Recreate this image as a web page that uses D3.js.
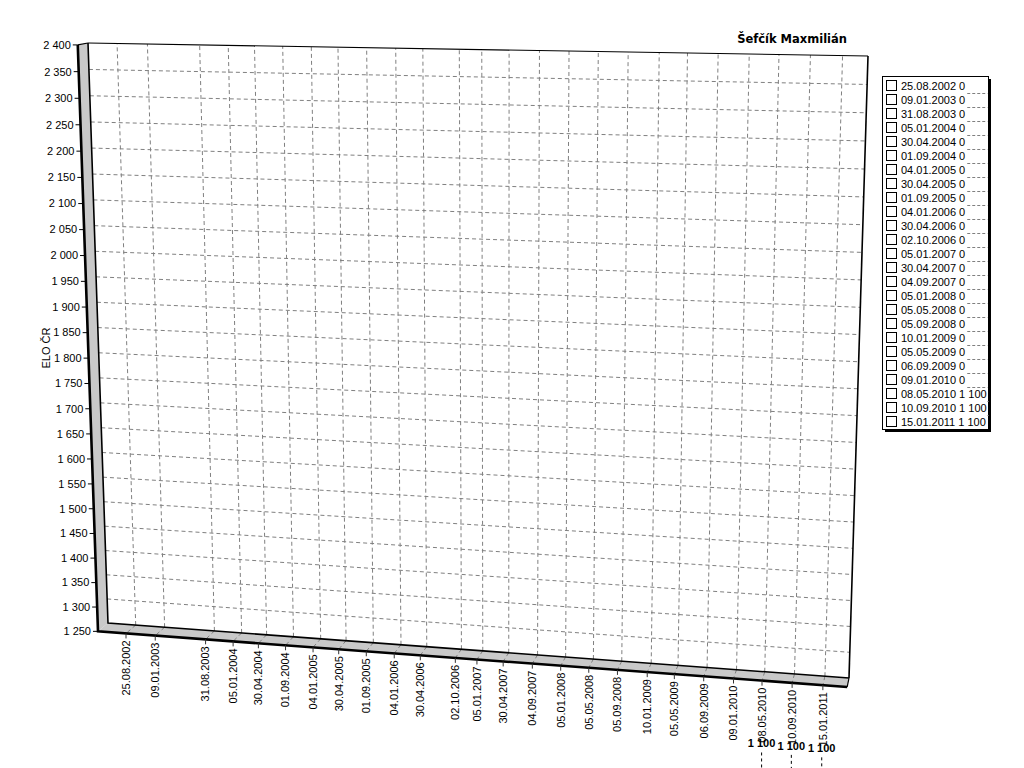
<!DOCTYPE html>
<html><head><meta charset="utf-8">
<script src="https://cdn.jsdelivr.net/npm/d3@7"></script>
<style>html,body{margin:0;padding:0;background:#fff;} svg{display:block;}</style>
</head><body><svg id="c" width="1024" height="768"></svg>
<script>
// ---------- data ----------
const dates = ["25.08.2002","09.01.2003","31.08.2003","05.01.2004","30.04.2004","01.09.2004",
  "04.01.2005","30.04.2005","01.09.2005","04.01.2006","30.04.2006","02.10.2006","05.01.2007",
  "30.04.2007","04.09.2007","05.01.2008","05.05.2008","05.09.2008","10.01.2009","05.05.2009",
  "06.09.2009","09.01.2010","08.05.2010","10.09.2010","15.01.2011"];
const values = [0,0,0,0,0,0,0,0,0,0,0,0,0,0,0,0,0,0,0,0,0,0,1100,1100,1100];
const yTickValues = [1250,1300,1350,1400,1450,1500,1550,1600,1650,1700,1750,1800,1850,1900,
  1950,2000,2050,2100,2150,2200,2250,2300,2350,2400];
const xDomainLabels = ["15.04.2002","25.04.2011"];
const yDomain = [1250, 2400];
const title = "Šefčík Maxmilián";
const yTitle = "ELO ČR";

// ---------- setup ----------
const svg = d3.select("#c");
const parse = d3.timeParse("%d.%m.%Y");
const loc = d3.formatLocale({decimal:",", thousands:"\u00a0", grouping:[3], currency:["",""]});
const fmt = v => loc.format(",d")(v).replace(/\u00a0/g, " ");

const xs = d3.scaleTime().domain(xDomainLabels.map(parse)).range([0,1]);
const ys = d3.scaleLinear().domain(yDomain).range([0,1]);

// perspective: back wall quad (unit square -> screen), plus depth toward viewer
function squareToQuad(p0,p1,p2,p3){
  const sx=p0[0]-p1[0]+p2[0]-p3[0], sy=p0[1]-p1[1]+p2[1]-p3[1];
  const dx1=p1[0]-p2[0], dx2=p3[0]-p2[0], dy1=p1[1]-p2[1], dy2=p3[1]-p2[1];
  const det=dx1*dy2-dx2*dy1;
  const g=(sx*dy2-sy*dx2)/det, h=(dx1*sy-dy1*sx)/det;
  const a=p1[0]-p0[0]+g*p1[0], b=p3[0]-p0[0]+h*p3[0], c=p0[0];
  const d=p1[1]-p0[1]+g*p1[1], e=p3[1]-p0[1]+h*p3[1], f=p0[1];
  return (u,v)=>{const w=g*u+h*v+1; return [(a*u+b*v+c)/w,(d*u+e*v+f)/w];};
}
const H = squareToQuad([108,623],[849,678],[868,56],[88,43]);
const VP = [1010,-130], K = 0.0111;
function project(u,v,w){
  const [x,y] = H(u,v);
  return [x + w*K*(x-VP[0]), y + w*K*(y-VP[1])];
}
const line = d3.line();

const FONT = "'Liberation Sans', Arial, sans-serif";

// ---------- back wall ----------
svg.append("path")
  .attr("d", line([project(0,0,0),project(1,0,0),project(1,1,0),project(0,1,0)]) + "Z")
  .attr("fill","#fff");

const grid = svg.append("g").attr("stroke","#808080").attr("stroke-width",1)
  .attr("stroke-dasharray","4,3").attr("fill","none");
yTickValues.forEach(t => {
  if (t === yDomain[0] || t === yDomain[1]) return;
  const v = ys(t);
  grid.append("path").attr("d", line([project(0,v,0), project(1,v,0)]));
});
dates.forEach(s => {
  const u = xs(parse(s));
  grid.append("path").attr("d", line([project(u,0,0), project(u,1,0)]));
});

// ---------- left wall ----------
svg.append("path")
  .attr("d", line([project(0,1,1),project(0,1,0),project(0,0,0),project(0,0,1)]) + "Z")
  .attr("fill","#c9c9c9").attr("stroke","none");
// ---------- floor ----------
svg.append("path")
  .attr("d", line([project(0,0,0),project(1,0,0),project(1,0,1),project(0,0,1)]) + "Z")
  .attr("fill","#c9c9c9").attr("stroke","none");

const fgrid = svg.append("g").attr("stroke","#808080").attr("stroke-width",1)
  .attr("stroke-dasharray","4,3").attr("fill","none");
dates.forEach(s => {
  const u = xs(parse(s));
  fgrid.append("path").attr("d", line([project(u,0,0), project(u,0,1)]));
});

// ---------- edges ----------
const edge = (pts, w) => svg.append("path").attr("d", line(pts))
  .attr("fill","none").attr("stroke","#000").attr("stroke-width",w).attr("stroke-linejoin","miter");
edge([project(0,1,0), project(1,1,0)], 1.2);              // top back
edge([project(1,1,0), project(1,0,0)], 1.6);              // right back
edge([project(0,1,0), project(0,0,0), project(1,0,0)], 1.6); // inner corner
edge([project(0,1,1), project(0,1,0)], 1.2);              // left wall top
edge([project(1,0,0), project(1,0,1)], 1.2);              // floor right end
edge([project(0,1,1), project(0,0,1), project(1,0,1)], 2.6); // front edges

// ---------- y axis ----------
const yAx = svg.append("g").attr("font-family",FONT).attr("font-size",11).attr("fill","#000");
yTickValues.forEach(t => {
  const [x,y] = project(0, ys(t), 1);
  yAx.append("line").attr("x1",x-5).attr("x2",x).attr("y1",y).attr("y2",y)
    .attr("stroke","#000").attr("stroke-width",1);
  yAx.append("text").attr("x",x-7).attr("y",y).attr("dy","0.35em")
    .attr("text-anchor","end").text(fmt(t));
});
svg.append("text").attr("transform","translate(50,348) rotate(-90)")
  .attr("text-anchor","middle").attr("font-family",FONT).attr("font-size",11)
  .attr("fill","#000").text(yTitle);

// ---------- x axis ----------
const xAx = svg.append("g").attr("font-family",FONT).attr("font-size",11).attr("fill","#000");
dates.forEach(s => {
  const [x,y] = project(xs(parse(s)), 0, 1);
  xAx.append("line").attr("x1",x).attr("x2",x).attr("y1",y).attr("y2",y+5)
    .attr("stroke","#333").attr("stroke-width",1);
  xAx.append("text").attr("transform",`translate(${x},${y+7}) rotate(-90)`)
    .attr("dy","0.35em").attr("text-anchor","end").text(s);
});

// ---------- series (marks) ----------
const ser = svg.append("g");
dates.forEach((s,i) => {
  const u = xs(parse(s));
  const P = project(u, ys(values[i]), 0.5);
  const P0 = project(u, ys(0), 0.5);
  if (P[1] > 768) return;
  ser.append("path").attr("d", line([P, [P[0], Math.min(P0[1], 800)]]))
    .attr("stroke","#000").attr("stroke-width",1).attr("stroke-dasharray","3,3").attr("fill","none");
  ser.append("text").attr("x",P[0]).attr("y",P[1]-5).attr("text-anchor","middle")
    .attr("font-family",FONT).attr("font-size",11).attr("font-weight","bold")
    .attr("fill","#000").text(fmt(values[i]));
});

// ---------- title ----------
svg.append("text").attr("x",847).attr("y",43).attr("text-anchor","end")
  .attr("font-family","'DejaVu Sans', Verdana, sans-serif").attr("font-size",11.5)
  .attr("font-weight","bold").attr("fill","#000").text(title);

// ---------- legend ----------
const lg = svg.append("g").attr("font-family",FONT).attr("font-size",11);
const LX = 882, LY = 76, LW = 106, rowH = 14, LH = dates.length*rowH + 3;
lg.append("rect").attr("x",LX+3).attr("y",LY+3).attr("width",LW).attr("height",LH).attr("fill","#000");
lg.append("rect").attr("x",LX+0.5).attr("y",LY+0.5).attr("width",LW).attr("height",LH)
  .attr("fill","#fff").attr("stroke","#000").attr("stroke-width",1);
dates.forEach((s,i) => {
  const yc = LY + 10 + i*rowH;
  lg.append("rect").attr("x",886.5).attr("y",yc-5.5).attr("width",10).attr("height",10)
    .attr("fill","#fff").attr("stroke","#000").attr("stroke-width",1);
  const t = lg.append("text").attr("x",901).attr("y",yc).attr("dy","0.35em")
    .attr("fill","#000").text(s + " " + fmt(values[i]));
  if (i < dates.length-1) {
    const x0 = 901 + t.node().getComputedTextLength() + 2;
    lg.append("line").attr("x1",x0).attr("x2",LX+LW-0.5).attr("y1",yc+7.5).attr("y2",yc+7.5)
      .attr("stroke","#808080").attr("stroke-width",1).attr("stroke-dasharray","3,2");
  }
});
</script>
</body></html>
